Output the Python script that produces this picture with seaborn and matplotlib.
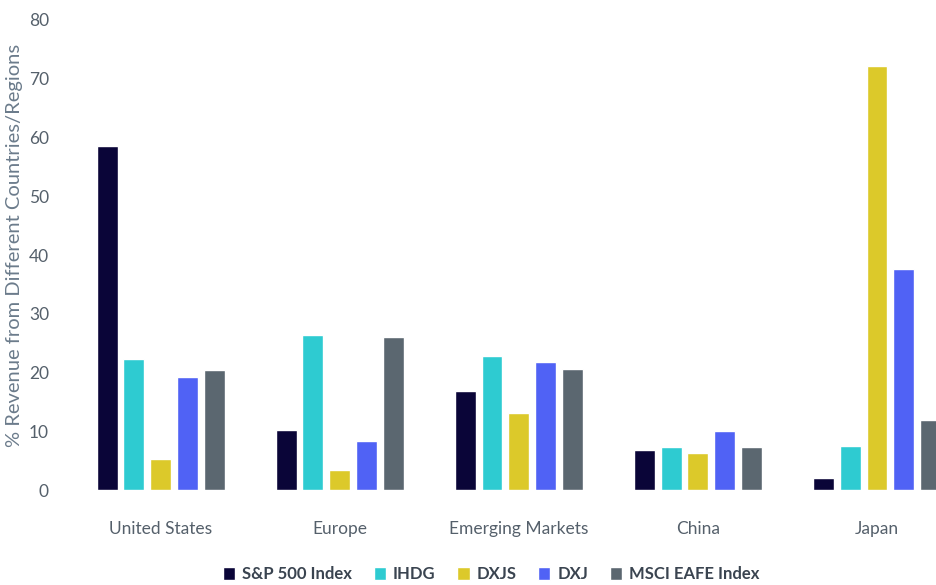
import matplotlib.pyplot as plt
import seaborn as sns
import pandas as pd

sns.set_theme(style="white")
plt.rcParams['font.family'] = ['Lato', 'DejaVu Sans']

regions = ["United States", "Europe", "Emerging Markets", "China", "Japan"]
series = ["S&P 500 Index", "IHDG", "DXJS", "DXJ", "MSCI EAFE Index"]
sp500 = [58.5, 10.2, 16.8, 6.8, 2.0]
ihdg = [22.3, 26.4, 22.8, 7.3, 7.5]
dxjs = [5.3, 3.4, 13.1, 6.3, 72.1]
dxj = [19.2, 8.3, 21.8, 10.0, 37.6]
msci = [20.4, 26.0, 20.6, 7.3, 11.9]
colors = ["#0a0538", "#2ecbd1", "#dcc92a", "#5062f5", "#5b6770"]

df = pd.DataFrame({"region": regions * 5,
                   "series": [s for s in series for _ in regions],
                   "value": sp500 + ihdg + dxjs + dxj + msci})

fig = plt.figure(figsize=(9.37, 5.85), dpi=100)
ax = fig.add_axes([0.076, 0.162, 0.924, 0.804])
sns.barplot(data=df, x="region", y="value", hue="series", order=regions,
            hue_order=series, palette=colors, width=0.75, gap=0.22,
            saturation=1, ax=ax, legend=True)

ax.set_ylim(0, 80)
ax.set_xlim(-0.5, 4.335)
ax.set_yticks(range(0, 81, 10))
ax.set_xlabel("")
ax.set_ylabel("% Revenue from Different Countries/Regions", color="#6b7b8b",
              fontsize=14.5)
ax.yaxis.set_label_coords(-0.056, 0.52)
ax.tick_params(axis="both", colors="#55606b", labelsize=12.5, length=0)
ax.tick_params(axis="x", pad=22)
ax.tick_params(axis="y", pad=16)
sns.despine(ax=ax, left=True, bottom=True)

leg = ax.legend(loc="upper center", bbox_to_anchor=(0.485, -0.13), ncol=5,
                frameon=False, handlelength=0.75, handleheight=0.75,
                handletextpad=0.4, columnspacing=1.3,
                prop={"weight": "bold", "size": 12})
for t in leg.get_texts():
    t.set_color("#3a4450")

fig.savefig("out.png", dpi=100)
